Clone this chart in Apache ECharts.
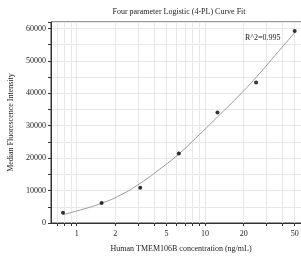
<!DOCTYPE html>
<html>
<head>
<meta charset="utf-8">
<style>
  html, body { margin: 0; padding: 0; background: #fff; }
  #chart { width: 301px; height: 259px; }
</style>
<script src="https://cdn.jsdelivr.net/npm/echarts@6/dist/echarts.min.js"></script>
</head>
<body>
<div id="chart"></div>
<script>
// standard points (ng/mL, MFI)
var conc = [0.78125, 1.5625, 3.125, 6.25, 12.5, 25, 50];
var mfi = [3150, 6150, 10900, 21450, 34050, 43350, 59200];

// fitted 4-PL curve
var curveConc = [0.78, 1.0, 1.5625, 2.2, 3.125, 4.4, 6.25, 9, 12.5, 18, 25, 35, 50];
var curveMfi = [2600, 3700, 6100, 8650, 12240, 16500, 21300, 27200, 32700, 38900, 44900, 51600, 58700];

var xTicks = [0.7, 0.8, 0.9, 1, 2, 3, 4, 5, 6, 7, 8, 9, 10, 20, 30, 40, 50, 60];
var xLabels = [1, 2, 5, 10, 20, 50];

var chart = echarts.init(document.getElementById('chart'));

var font = 'Liberation Serif';

var option = {
  animation: false,
  graphic: [
    {
      type: 'text',
      x: 179,
      y: 8,
      style: {
        text: 'Four parameter Logistic (4-PL) Curve Fit',
        font: '8px "Liberation Serif"', fill: '#222', align: 'center'
      }
    },
    {
      type: 'text',
      x: 245,
      y: 34,
      style: { text: 'R^2=0.995', font: '8px "Liberation Serif"', fill: '#222' }
    }
  ],
  grid: {
    left: 51, right: -10, top: 22, bottom: 36,
    outerBoundsMode: 'none',
    containLabel: false,
    show: true, borderColor: '#333', borderWidth: 1
  },
  xAxis: {
    type: 'log',
    min: 0.63,
    max: 67,
    name: 'Human TMEM106B concentration (ng/mL)',
    nameLocation: 'middle',
    nameGap: 22,
    nameTextStyle: { fontFamily: font, fontSize: 8, color: '#222' },
    axisLine: { lineStyle: { color: '#333', width: 1 } },
    axisTick: { customValues: xTicks, length: 3, lineStyle: { color: '#333' } },
    axisLabel: {
      customValues: xLabels,
      margin: 7,
      fontFamily: font, fontSize: 8, color: '#222'
    },
    splitLine: { show: true, lineStyle: { color: '#e8e8e8', width: 1 } }
  },
  yAxis: {
    type: 'value',
    min: 0,
    max: 62000,
    interval: 10000,
    name: 'Median Fluorescence Intensity',
    nameLocation: 'middle',
    nameGap: 34,
    nameTextStyle: { fontFamily: font, fontSize: 8, color: '#222' },
    axisLine: { show: true, lineStyle: { color: '#333', width: 1 } },
    axisTick: { show: true, length: 3, lineStyle: { color: '#333' } },
    minorTick: { show: true, splitNumber: 2, length: 3, lineStyle: { color: '#333' } },
    axisLabel: {
      margin: 5, fontFamily: font, fontSize: 8, color: '#222',
      formatter: function (v) { return String(v); }
    },
    splitLine: { show: true, lineStyle: { color: '#e8e8e8', width: 1 } },
    minorSplitLine: { show: true, lineStyle: { color: '#e8e8e8', width: 1 } }
  },
  series: [
    {
      type: 'line',
      data: curveConc.map(function (c, i) { return [c, curveMfi[i]]; }),
      smooth: true,
      showSymbol: false,
      lineStyle: { color: '#999', width: 1 },
      z: 2
    },
    {
      type: 'scatter',
      data: conc.map(function (c, i) { return [c, mfi[i]]; }),
      symbolSize: 4,
      itemStyle: { color: '#000' },
      z: 3
    }
  ]
};

chart.setOption(option);
</script>
</body>
</html>
